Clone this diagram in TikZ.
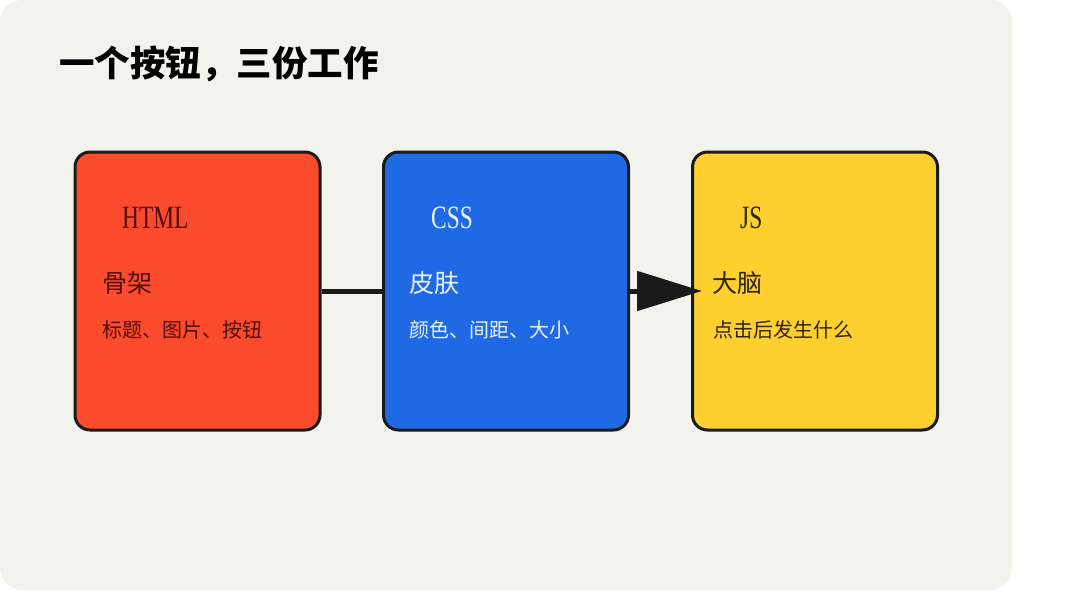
\documentclass[tikz,border=0pt]{standalone}
\usepackage{fontspec}
\usetikzlibrary{arrows.meta}
\newfontfamily\cjk{Noto Sans CJK SC}
\newfontfamily\lblfont{Liberation Serif}[FakeStretch=0.72]
\definecolor{bgpanel}{HTML}{F3F3EE}
\definecolor{edge}{HTML}{1A1A1A}
\definecolor{redbox}{HTML}{FC4A2D}
\definecolor{bluebox}{HTML}{1F6AE4}
\definecolor{yellowbox}{HTML}{FDD030}
\definecolor{redtext}{HTML}{4E0E08}
\definecolor{bluetext}{HTML}{E8F3FF}
\definecolor{yellowtext}{HTML}{2E2208}
\tikzset{
  panel/.style={draw=edge, line width=3pt, rounded corners=15pt, minimum width=245pt, minimum height=278pt, inner sep=0pt},
  lbl/.style={anchor=base west, inner sep=0pt, font=\lblfont\fontsize{32.5}{32.5}\selectfont},
  head/.style={anchor=west, inner sep=0pt, font=\cjk\fontsize{25}{25}\selectfont},
  sub/.style={anchor=west, inner sep=0pt, font=\cjk\fontsize{20}{20}\selectfont},
  link/.style={draw=edge, line width=5pt}
}
\begin{document}
\begin{tikzpicture}[x=1pt,y=-1pt]
\useasboundingbox (0,0) rectangle (1080,608);
\fill[white] (0,0) rectangle (1080,608);
\fill[bgpanel, rounded corners=22pt] (0,0) rectangle (1012,590);
\node[anchor=west, inner sep=0pt, font=\cjk\bfseries\fontsize{35.5}{35.5}\selectfont, text=black] (title) at (59,64) {一个按钮，三份工作};

\node[panel, fill=redbox] (html) at (197.5,291) {};
\node[panel, fill=bluebox] (css) at (506,291) {};
\node[panel, fill=yellowbox] (js) at (815,291) {};

\node[lbl, text=redtext] (htmlt) at (122,228) {HTML};
\node[lbl, text=bluetext] (csst) at (431,228) {CSS};
\node[lbl, text=yellowtext] (jst) at (740,228) {JS};

\node[head, text=redtext] (htmlh) at (102,283) {骨架};
\node[head, text=bluetext] (cssh) at (409,283) {皮肤};
\node[head, text=yellowtext] (jsh) at (712,283) {大脑};

\node[sub, text=redtext] (htmls) at (102,330) {标题、图片、按钮};
\node[sub, text=bluetext] (csss) at (409,330) {颜色、间距、大小};
\node[sub, text=yellowtext] (jss) at (713,330) {点击后发生什么};

\draw[link] (html.east) -- (css.west);
\draw[link, -{Triangle[length=65pt,width=39pt]}, shorten >=-11pt] (css.east) -- (js.west);
\end{tikzpicture}
\end{document}
